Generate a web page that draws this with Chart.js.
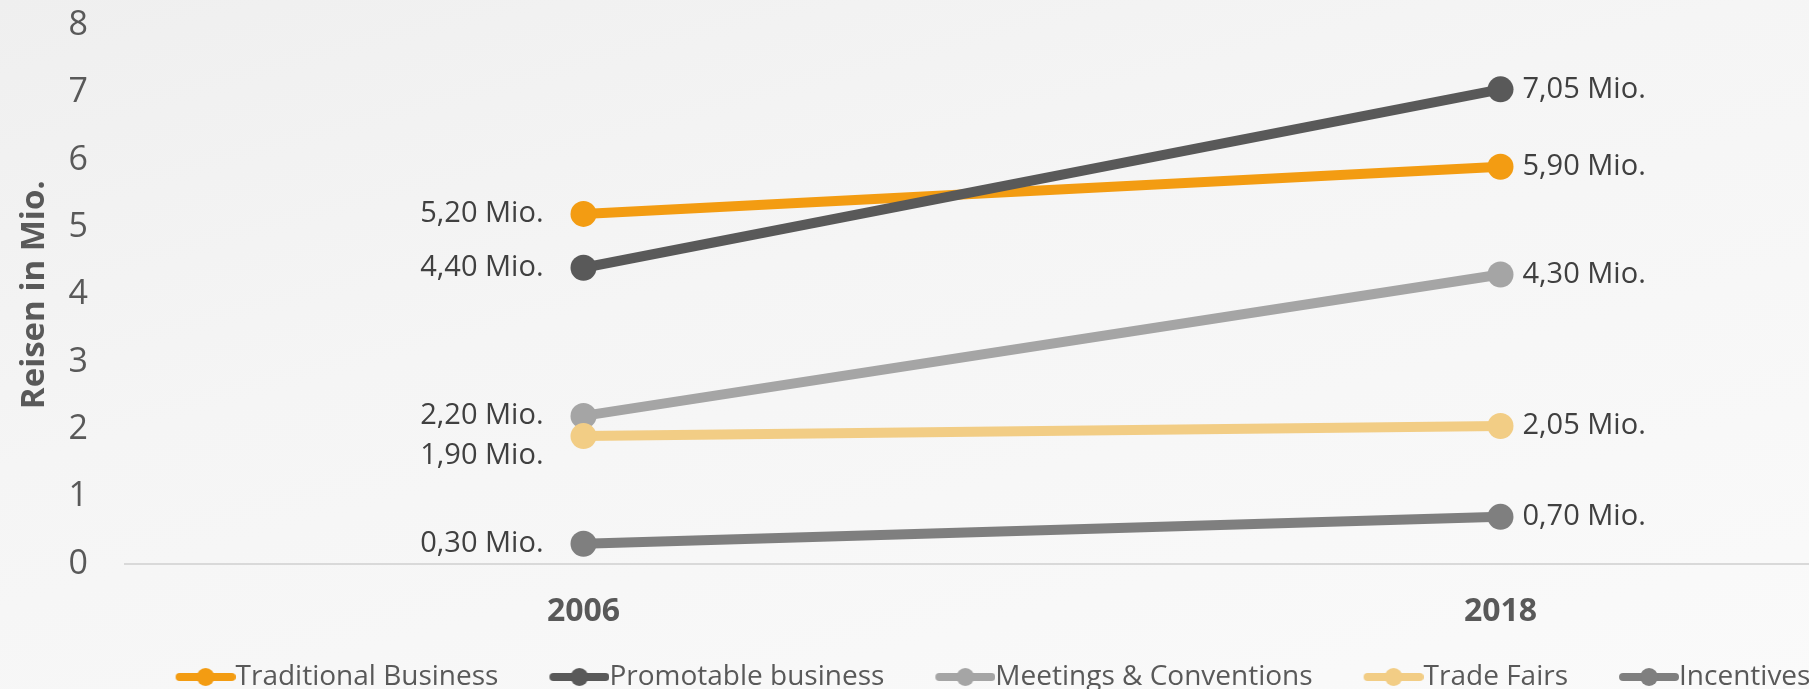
<!DOCTYPE html>
<html>
<head>
<meta charset="utf-8">
<script src="https://cdn.jsdelivr.net/npm/chart.js@4"></script>
<style>
  html, body { margin: 0; padding: 0; }
  body {
    width: 1809px; height: 689px; overflow: hidden;
    background: linear-gradient(165deg, #efefef 0%, #f5f5f5 40%, #fafafa 100%);
  }
  /* chart is bigger than the window, edges get cut like the reference */
  #wrap { width: 1978px; height: 733px; margin-top: -32px; }
</style>
</head>
<body>
<div id="wrap"><canvas id="lineChart"></canvas></div>
<script>
const years = ['2006', '2018'];
const seriesNames = ['Traditional Business', 'Promotable business', 'Meetings & Conventions', 'Trade Fairs', 'Incentives'];
const traditional = [5.20, 5.90];
const promotable = [4.40, 7.05];
const meetings = [2.20, 4.30];
const tradeFairs = [1.90, 2.05];
const incentives = [0.30, 0.70];
const yTicks = [0, 1, 2, 3, 4, 5, 6, 7, 8];

const seriesValues = [traditional, promotable, meetings, tradeFairs, incentives];
const colors = ['#F39C12', '#595959', '#A5A5A5', '#F2CD85', '#7F7F7F'];
const family = '"Open Sans", sans-serif';

// legend marker: line with a dot, drawn into a small canvas
function legendMarker(color) {
  const c = document.createElement('canvas');
  c.width = 73 + 28;
  c.height = 24;
  const g = c.getContext('2d');
  const x1 = c.width - 60;
  g.strokeStyle = color;
  g.lineWidth = 8;
  g.lineCap = 'round';
  g.beginPath();
  g.moveTo(x1 + 4, 12);
  g.lineTo(c.width - 4, 12);
  g.stroke();
  g.fillStyle = color;
  g.beginPath();
  g.arc(x1 + 30, 12, 9, 0, Math.PI * 2);
  g.fill();
  return c;
}
const markers = colors.map(legendMarker);

// "5,20 Mio." labels, left of first point, right of last point
const valueLabels = {
  id: 'valueLabels',
  afterDatasetsDraw(chart) {
    const ctx = chart.ctx;
    ctx.save();
    ctx.font = '29px ' + family;
    ctx.fillStyle = '#404040';
    ctx.textBaseline = 'middle';
    chart.data.datasets.forEach((ds, i) => {
      const meta = chart.getDatasetMeta(i);
      meta.data.forEach((pt, j) => {
        const txt = ds.data[j].toFixed(2).replace('.', ',') + ' Mio.';
        const dy = ds.labelDy ? ds.labelDy[j] : 0;
        if (j === 0) {
          ctx.textAlign = 'right';
          ctx.fillText(txt, pt.x - 40, pt.y + dy);
        } else {
          ctx.textAlign = 'left';
          ctx.fillText(txt, pt.x + 22, pt.y + dy);
        }
      });
    });
    ctx.restore();
  }
};

const ctx = document.getElementById('lineChart').getContext('2d');
const myLineChart = new Chart(ctx, {
  type: 'line',
  data: {
    labels: years,
    datasets: seriesNames.map((name, i) => ({
      label: name,
      data: seriesValues[i],
      borderColor: colors[i],
      backgroundColor: colors[i],
      borderWidth: 10,
      pointRadius: 13,
      pointHoverRadius: 13,
      pointBorderWidth: 0,
      order: seriesNames.length - i,
      labelDy: name === 'Trade Fairs' ? [20, 0] : null
    }))
  },
  options: {
    responsive: true,
    maintainAspectRatio: false,
    animation: false,
    devicePixelRatio: 1,
    layout: { padding: { top: 4, right: 19, left: 0, bottom: 0 } },
    scales: {
      x: {
        offset: true,
        grid: { display: false, drawTicks: false },
        border: { display: true, color: '#D9D9D9', width: 2 },
        afterFit: s => { s.height = 75; },
        ticks: { padding: 29, color: '#595959', font: { size: 32, weight: 'bold', family: family } }
      },
      y: {
        min: 0,
        max: 8,
        afterBuildTicks: s => { s.ticks = yTicks.map(v => ({ value: v })); },
        afterFit: s => { s.width = 125; },
        grid: { display: false, drawTicks: false },
        border: { display: false },
        ticks: { padding: 37, color: '#595959', font: { size: 34, family: family } },
        title: {
          display: true,
          text: 'Reisen in Mio.',
          color: '#595959',
          font: { size: 33, weight: 'bold', family: family },
          padding: { top: 15, bottom: 0 }
        }
      }
    },
    plugins: {
      tooltip: { enabled: false },
      legend: {
        position: 'bottom',
        labels: {
          usePointStyle: true,
          pointStyleWidth: 73,
          padding: 24,
          color: '#595959',
          font: { size: 28, family: family },
          generateLabels(chart) {
            const items = Chart.defaults.plugins.legend.labels.generateLabels(chart);
            items.forEach(it => { it.pointStyle = markers[it.datasetIndex]; });
            return items;
          },
          sort: (a, b) => a.datasetIndex - b.datasetIndex
        }
      }
    }
  },
  plugins: [valueLabels]
});
</script>
</body>
</html>
